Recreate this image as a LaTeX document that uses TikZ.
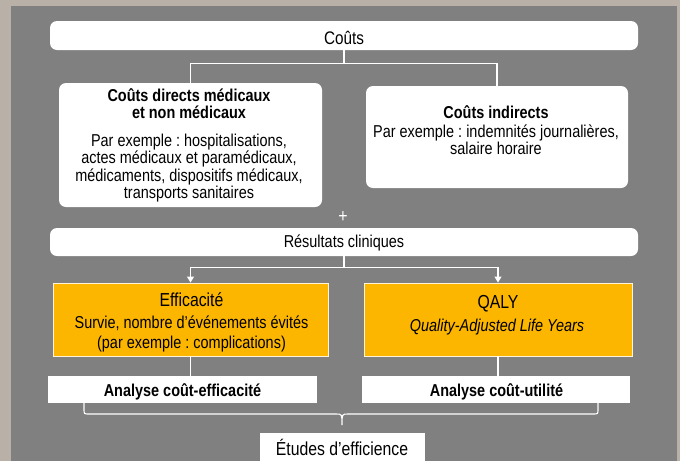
\documentclass[tikz,border=0pt]{standalone}
\usepackage{fontspec}
\setmainfont{Liberation Sans}[FakeStretch=0.84]
\usetikzlibrary{arrows.meta}
\definecolor{bgbeige}{RGB}{185,176,167}
\definecolor{bggray}{RGB}{128,128,128}
\definecolor{orangebox}{RGB}{252,182,0}
\frenchspacing
\begin{document}
\begin{tikzpicture}[x=1pt,y=-1pt,
  wbox/.style={fill=white, rounded corners=7pt, inner sep=0pt},
  sbox/.style={fill=white, inner sep=0pt},
  obox/.style={fill=orangebox, draw=white!85!orangebox, line width=0.9pt, inner sep=0pt},
  txt/.style={inner sep=0pt, anchor=base, text=black, font=\fontsize{17.2}{17.5}\selectfont},
  btxt/.style={txt, font=\bfseries\fontsize{17.2}{17.5}\selectfont},
  ttxt/.style={txt, font=\fontsize{18.8}{19}\selectfont},
  conn/.style={draw=white, line width=1.1pt},
  arr/.style={conn, -{Triangle[width=7pt,length=6pt]}}
]
\useasboundingbox (0,0) rectangle (680,461);
\fill[bgbeige] (0,0) rectangle (680,461);
\fill[bggray] (11,6) rectangle (677,461);

% boxes
\node[wbox, minimum width=588pt, minimum height=29pt] (couts) at (344,35.5) {};
\node[wbox, minimum width=263pt, minimum height=124pt] (direct) at (190.5,145) {};
\node[wbox, minimum width=262pt, minimum height=102pt] (indirect) at (497,137) {};
\node[wbox, minimum width=588pt, minimum height=28pt] (res) at (344,242) {};
\node[obox, minimum width=275pt, minimum height=73pt] (eff) at (190.5,319.5) {};
\node[obox, minimum width=268pt, minimum height=73pt] (qaly) at (498,319.5) {};
\node[sbox, minimum width=269pt, minimum height=27pt] (ce) at (182.5,389.5) {};
\node[sbox, minimum width=268pt, minimum height=27pt] (cu) at (496,389.5) {};
\node[sbox, minimum width=165pt, minimum height=30pt] (etudes) at (342.5,448) {};

% texts
\node[txt, font=\fontsize{18.2}{18}\selectfont] (coutsT) at (344,44) {Coûts};
\node[btxt] (directT1) at (189,101) {Coûts directs médicaux};
\node[btxt] (directT2) at (189,118.5) {et non médicaux};
\node[txt] (directB1) at (189,146) {Par exemple : hospitalisations,};
\node[txt] (directB2) at (189,163.5) {actes médicaux et paramédicaux,};
\node[txt] (directB3) at (189,181) {médicaments, dispositifs médicaux,};
\node[txt] (directB4) at (189,198.5) {transports sanitaires};
\node[btxt] (indT) at (496,118) {Coûts indirects};
\node[txt] (indB1) at (496,137) {Par exemple : indemnités journalières,};
\node[txt] (indB2) at (496,154) {salaire horaire};
\node[txt, text=white, font=\fontsize{19}{18}\selectfont] (plus) at (343,222) {+};
\node[txt] (resT) at (344,247) {Résultats cliniques};
\node[ttxt] (effT) at (191.5,306) {Efficacité};
\node[txt] (effB1) at (191.5,328) {Survie, nombre d’événements évités};
\node[txt] (effB2) at (191.5,348) {(par exemple : complications)};
\node[ttxt] (qalyT) at (498,308) {QALY};
\node[txt, font=\itshape\fontsize{17.2}{17.5}\selectfont] (qalyB) at (497,331) {Quality-Adjusted Life Years};
\node[btxt] (ceT) at (182.5,396) {Analyse coût-efficacité};
\node[btxt] (cuT) at (496.5,396) {Analyse coût-utilité};
\node[ttxt] (etudesT) at (342,455) {Études d’efficience};

% connectors
\draw[conn] (couts.south) -- ++(0,13) -| (direct.north);
\draw[conn] (couts.south) -- ++(0,13) -| (indirect.north);
\draw[arr] (res.south) -- ++(0,11) -| (eff.north);
\draw[arr] (res.south) -- ++(0,11) -| (qaly.north);
\draw[conn] (eff.south) -- (eff.south |- ce.north);
\draw[conn] (qaly.south) -- (qaly.south |- cu.north);

% brace
\coordinate (bl) at (84,403);
\coordinate (br) at (598,403);
\coordinate (btip) at (342,425);
\draw[conn] (bl) -- (84,409) .. controls (84,414) .. (89,414) -- (336,414)
  .. controls (342,414) .. (btip) .. controls (342,414) .. (348,414)
  -- (593,414) .. controls (598,414) .. (598,409) -- (br);
\end{tikzpicture}
\end{document}
